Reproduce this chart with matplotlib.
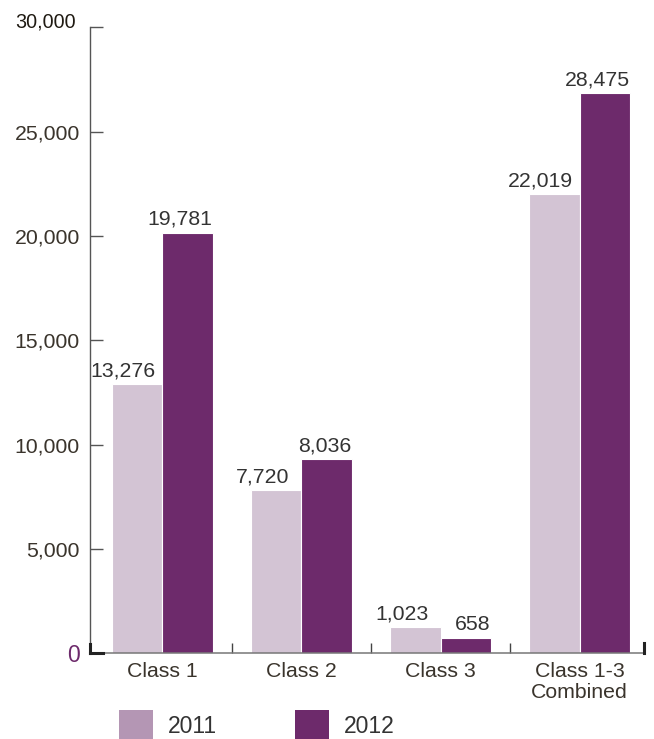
import matplotlib
matplotlib.use("Agg")
import matplotlib.pyplot as plt
import numpy as np
from matplotlib.patches import Patch

plt.rcParams['font.family'] = ['Liberation Sans', 'DejaVu Sans']

# ---- data ----
categories = ["Class 1", "Class 2", "Class 3", "Class 1-3\nCombined"]
series_names = ["2011", "2012"]
# printed values
labels_2011 = ["13,276", "7,720", "1,023", "22,019"]
labels_2012 = ["19,781", "8,036", "658", "28,475"]
# bar heights as drawn in the picture (read against the y axis)
heights_2011 = [12900, 7830, 1260, 22010]
heights_2012 = [20160, 9310, 730, 26860]
yticks = [0, 5000, 10000, 15000, 20000, 25000, 30000]
ytick_labels = ["0", "5,000", "10,000", "15,000", "20,000", "25,000", "30,000"]

# ---- style ----
c2011_bar = "#d3c4d4"
c2011_leg = "#b496b4"
c2012 = "#6d2a6b"
txt = "#3a342c"
val_col = "#333333"

fig = plt.figure(figsize=(6.54, 7.39), dpi=100)
ax = fig.add_axes([90/654, 1-653.3/739, (644-90)/654, (653.3-27.3)/739])

x = np.arange(len(categories))
w = 0.361
b1 = ax.bar(x - w/2, heights_2011, width=w, color=c2011_bar, edgecolor="white", linewidth=0.8)
b2 = ax.bar(x + w/2, heights_2012, width=w, color=c2012, edgecolor="white", linewidth=0.8)

xl = (-0.5206, 3.463)
ax.set_xlim(*xl)
ax.set_ylim(0, 30000)

for xi, h, lab in zip(x, heights_2011, labels_2011):
    ax.annotate(lab, (xi - w/2, h), xytext=(-10, 5.5), textcoords="offset points",
                ha="center", va="baseline", fontsize=15.3, color=val_col)
for xi, h, lab in zip(x, heights_2012, labels_2012):
    ax.annotate(lab, (xi + w, h), xytext=(0, 5.5), textcoords="offset points",
                ha="right", va="baseline", fontsize=15.3, color=val_col)

# axes styling
for s in ["top", "right"]:
    ax.spines[s].set_visible(False)
ax.spines["left"].set_color("#555555")
ax.spines["left"].set_linewidth(1.0)
ax.spines["bottom"].set_color("#777777")
ax.spines["bottom"].set_linewidth(1.1)

ax.set_yticks(yticks)
ax.set_yticklabels(ytick_labels)
ax.tick_params(axis="y", direction="in", length=9.4, width=1.0, color="#555555",
               pad=7.2, labelsize=15.3, labelcolor=txt)
ylabs = ax.get_yticklabels()
ylabs[0].set_color(c2012)
ylabs[0].set_fontsize(16.5)
ylabs[-1].set_visible(False)
ax.annotate(ytick_labels[-1], (0, yticks[-1]), xycoords=("axes fraction", "data"),
            xytext=(-10, 4), textcoords="offset points", ha="right", va="center",
            fontsize=14.2, color="#1f1a12")

ax.set_xticks(x)
ax.set_xticklabels(categories, linespacing=1.12)
ax.tick_params(axis="x", which="major", length=0, pad=6.5, labelsize=15.3, labelcolor=txt)
ax.set_xticks(x[:-1] + 0.5, minor=True)
ax.tick_params(axis="x", which="minor", direction="in", length=7.2, width=1.0, color="#444444")

# dark corner and end marks
ax.axhline(0, xmin=0, xmax=13/554, color="#222222", lw=2.2, clip_on=False, zorder=5)
ax.axvline(xl[0], ymin=0, ymax=9/626, color="#222222", lw=2.2, clip_on=False, zorder=5)
ax.axvline(xl[1], ymin=0, ymax=10/626, color="#222222", lw=2.2, clip_on=False, zorder=5)

handles = [Patch(facecolor=c2011_leg, edgecolor="none"), Patch(facecolor=c2012, edgecolor="none")]
fig.legend(handles, series_names, loc="upper left", bbox_to_anchor=(119/654, 1-710/739),
           ncol=2, frameon=False, fontsize=16.5, handlelength=1.48, handleheight=1.75,
           handletextpad=0.66, columnspacing=3.4, borderpad=0, borderaxespad=0,
           labelcolor="#333333")

fig.savefig("out.png", dpi=100)
